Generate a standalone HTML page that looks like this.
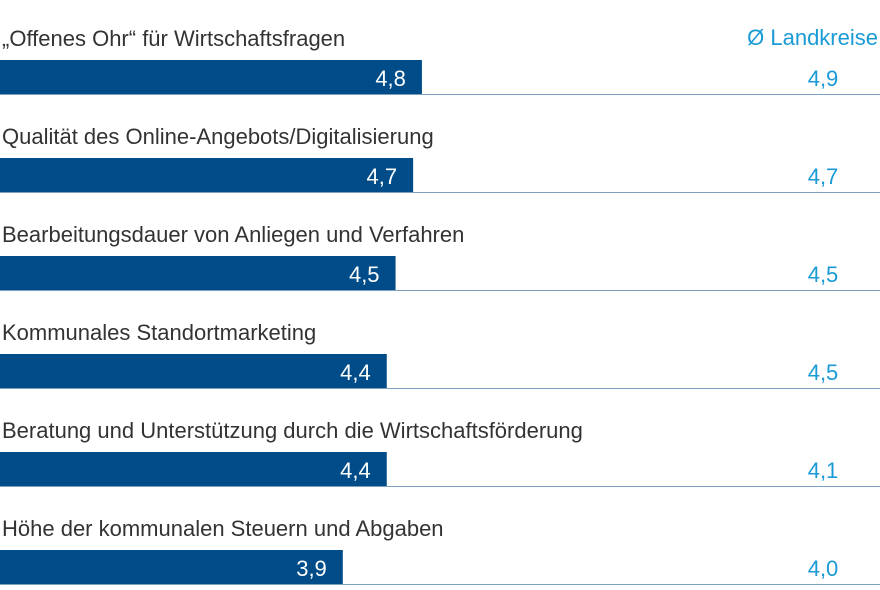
<!DOCTYPE html>
<html><head><meta charset="utf-8"><style>
body{margin:0;background:#fff;width:880px;height:585px;overflow:hidden;font-family:"Liberation Sans",sans-serif}
svg text{font-family:"Liberation Sans",sans-serif}
</style></head><body>
<svg width="880" height="585" id="c">
<text x="878" y="45" text-anchor="end" font-size="22" fill="#1a9ad6">Ø Landkreise</text>
</svg>
<script>
const categories=["„Offenes Ohr“ für Wirtschaftsfragen","Qualität des Online-Angebots/Digitalisierung","Bearbeitungsdauer von Anliegen und Verfahren","Kommunales Standortmarketing","Beratung und Unterstützung durch die Wirtschaftsförderung","Höhe der kommunalen Steuern und Abgaben"];
const values=[4.8,4.7,4.5,4.4,4.4,3.9];
const landkreise=[4.9,4.7,4.5,4.5,4.1,4.0];
const svg=document.getElementById('c');
const NS='http://www.w3.org/2000/svg';
const x=v=>v*87.9;
const rowY=i=>60+i*98;
function mk(t,a){const e=document.createElementNS(NS,t);for(const k in a)e.setAttribute(k,a[k]);svg.appendChild(e);return e;}
const fmt=v=>v.toFixed(1).replace('.',',');
categories.forEach((c,i)=>{
 const y=rowY(i);
 const l=mk('text',{x:2,y:y-14,'font-size':22,fill:'#333'});l.textContent=c;
 
 
 const ln=mk('line',{x1:0,x2:880,y1:y+34.5,y2:y+34.5,stroke:'#7f9fc0','stroke-width':1});
 
 
 const b=mk('rect',{x:0,y:y,width:x(values[i]),height:34,fill:'#004c89'});
 
 
 const v=mk('text',{x:x(values[i])-16,y:y+26,'font-size':22,fill:'#fff','text-anchor':'end'});v.textContent=fmt(values[i]);
 
 
 const lk=mk('text',{x:823,y:y+26,'font-size':22,fill:'#1a9ad6','text-anchor':'middle'});lk.textContent=fmt(landkreise[i]);
 
 
});
</script>
</body></html>
